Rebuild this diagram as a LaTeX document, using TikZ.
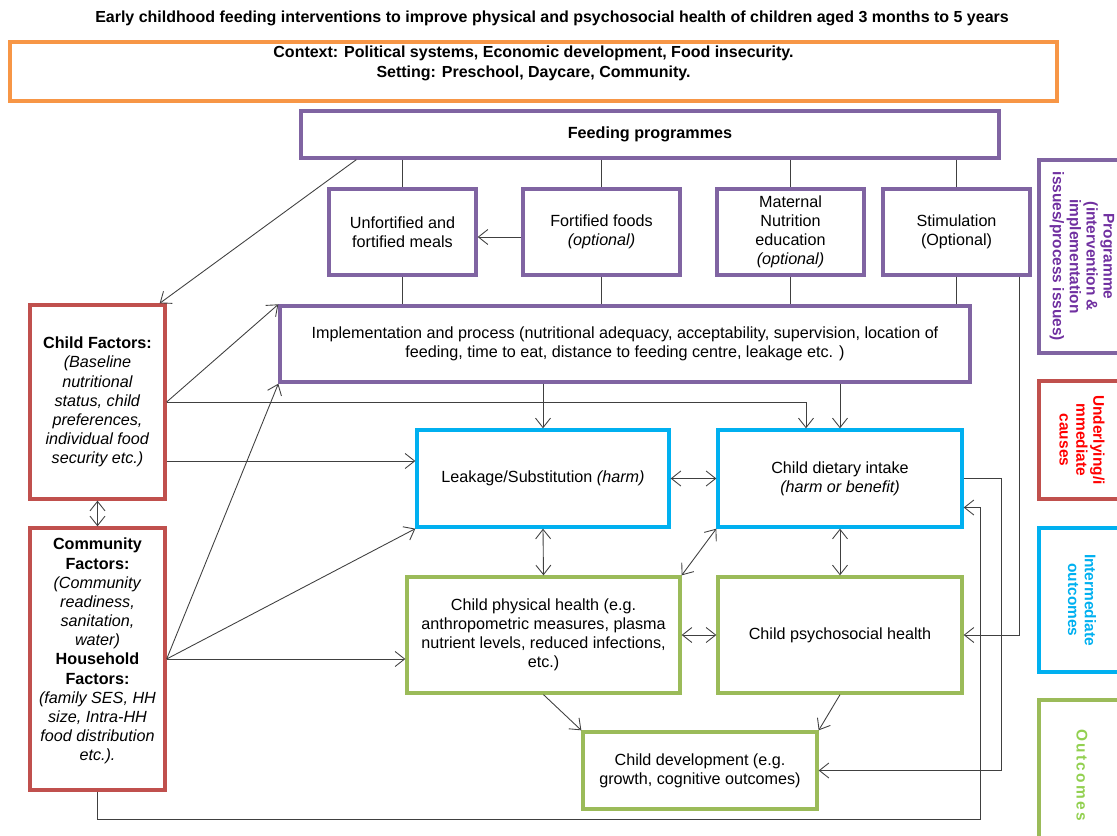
\documentclass[tikz,border=0pt]{standalone}
\usepackage{fontspec}
\setmainfont{Liberation Sans}
\usetikzlibrary{arrows.meta}

\definecolor{ctxorange}{HTML}{F79646}
\definecolor{progpurple}{HTML}{8064A2}
\definecolor{progtext}{HTML}{7030A0}
\definecolor{causered}{HTML}{C0504D}
\definecolor{interblue}{HTML}{00B0F0}
\definecolor{outgreen}{HTML}{9BBB59}
\definecolor{outtext}{HTML}{92D050}
\definecolor{linkgray}{HTML}{404040}

\begin{document}
\begin{tikzpicture}[
    >={Straight Barb[length=1.9mm,width=3mm]},
    every node/.style={font=\fontsize{9.2}{10.9}\selectfont, align=center, inner sep=2pt},
    ctxbox/.style={draw=ctxorange, line width=1.9pt},
    progbox/.style={draw=progpurple, line width=1.9pt},
    causebox/.style={draw=causered, line width=1.9pt},
    interbox/.style={draw=interblue, line width=1.9pt},
    outbox/.style={draw=outgreen, line width=1.9pt},
    legend/.style={rotate=-90, minimum height=1.72cm, font=\fontsize{8.8}{9.6}\selectfont\bfseries},
    link/.style={draw=linkgray, line width=0.5pt}
  ]
  \useasboundingbox (0,0) rectangle (22.34,16.7);

  % Title and context
  \node[font=\fontsize{9.1}{10.5}\selectfont\bfseries] (title) at (11.04,16.34)
    {Early childhood feeding interventions to improve physical and psychosocial health of children aged 3 months to 5 years};
  \node[ctxbox, minimum width=20.94cm, minimum height=1.18cm, font=\fontsize{9.1}{11}\selectfont\bfseries] (context) at (10.67,15.27)
    {Context: Political systems, Economic development, Food insecurity.\\ Setting: Preschool, Daycare, Community.\\ \mbox{}};

  % Programme boxes
  \node[progbox, minimum width=13.96cm, minimum height=0.94cm, font=\fontsize{9.2}{10.5}\selectfont\bfseries] (feed) at (13.0,14.01) {Feeding programmes};
  \node[progbox, minimum width=2.94cm, minimum height=1.72cm] (meals) at (8.05,12.06) {Unfortified and\\ fortified meals};
  \node[progbox, minimum width=3.14cm, minimum height=1.72cm] (fort) at (12.03,12.06) {Fortified foods\\ \textit{(optional)}};
  \node[progbox, minimum width=2.94cm, minimum height=1.72cm] (matern) at (15.81,12.06) {Maternal\\ Nutrition\\ education\\ \textit{(optional)}};
  \node[progbox, minimum width=2.94cm, minimum height=1.72cm] (stim) at (19.13,12.06) {Stimulation\\ (Optional)};
  \node[progbox, minimum width=13.8cm, minimum height=1.52cm] (impl) at (12.5,9.82)
    {Implementation and process (nutritional adequacy, acceptability, supervision, location of\\ feeding, time to eat, distance to feeding centre, leakage etc. )};

  % Child, community and household factors
  \node[causebox, minimum width=2.7cm, minimum height=3.88cm] (child) at (1.95,8.66)
    {\textbf{Child Factors:}\\ \textit{(Baseline}\\ \textit{nutritional}\\ \textit{status, child}\\ \textit{preferences,}\\ \textit{individual food}\\ \textit{security etc.)}};
  \node[causebox, minimum width=2.7cm, minimum height=5.24cm] (comm) at (1.95,3.52)
    {\textbf{Community}\\ \textbf{Factors:}\\ \textit{(Community}\\ \textit{readiness,}\\ \textit{sanitation,}\\ \textit{water)}\\ \textbf{Household}\\ \textbf{Factors:}\\ \textit{(family SES, HH}\\ \textit{size, Intra-HH}\\ \textit{food distribution}\\ \textit{etc.).}\\ \mbox{}};

  % Intermediate outcomes
  \node[interbox, minimum width=5.04cm, minimum height=1.94cm] (leak) at (10.86,7.13) {Leakage/Substitution \textit{(harm)}};
  \node[interbox, minimum width=4.88cm, minimum height=1.94cm] (diet) at (16.8,7.13) {Child dietary intake\\ \textit{(harm or benefit)}};

  % Outcomes
  \node[outbox, minimum width=5.46cm, minimum height=2.32cm] (phys) at (10.87,4.0)
    {Child physical health (e.g.\\ anthropometric measures, plasma\\ nutrient levels, reduced infections,\\ etc.)};
  \node[outbox, minimum width=4.88cm, minimum height=2.32cm] (psych) at (16.8,4.0) {Child psychosocial health};
  \node[outbox, minimum width=4.68cm, minimum height=1.54cm] (dev) at (14.0,1.29) {Child development (e.g.\\ growth, cognitive outcomes)};

  % Legend
  \node[legend, progbox, text=progtext, minimum width=3.86cm] (lprog) at (21.64,11.57)
    {Programme\\ (intervention \&\\ implementation\\ issues/process issues)};
  \node[legend, causebox, text=red, minimum width=2.36cm] (lcause) at (21.64,7.9) {Underlying/i\\ mmediate\\ causes};
  \node[legend, interbox, text=interblue, minimum width=2.88cm] (linter) at (21.64,4.7) {Intermediate\\ outcomes};
  \node[legend, outbox, text=outtext, minimum width=3.0cm] (lout) at (21.64,1.2) {\addfontfeature{LetterSpace=15}Outcomes};

  % Programme connectors
  \draw[link] (feed.south -| meals.north) -- (meals.north);
  \draw[link] (feed.south -| fort.north) -- (fort.north);
  \draw[link] (feed.south -| matern.north) -- (matern.north);
  \draw[link] (feed.south -| stim.north) -- (stim.north);
  \draw[link] (meals.south) -- (meals.south |- impl.north);
  \draw[link] (fort.south) -- (fort.south |- impl.north);
  \draw[link] (matern.south) -- (matern.south |- impl.north);
  \draw[link] (stim.south) -- (stim.south |- impl.north);
  \draw[link,->] ([yshift=-0.1cm]fort.west) -- ([yshift=-0.1cm]meals.east);
  \draw[link,->] ([xshift=1.14cm]feed.south west) -- ([xshift=-0.14cm]child.north east);

  % Factor connectors
  \coordinate (cfood) at ([yshift=-1.18cm]child.east);
  \draw[link,<->] (child.south) -- (comm.north);
  \draw[link,->] (child.east) -- (impl.north west);
  \draw[link,->] (child.east) -| ([xshift=-0.68cm]diet.north);
  \draw[link,->] (cfood) -- (cfood -| leak.west);
  \draw[link,->] (comm.east) -- (impl.south west);
  \draw[link,->] (comm.east) -- (leak.south west);
  \draw[link,->] (comm.east) -- (comm.east -| phys.west);

  % Intermediate and outcome connectors
  \draw[link,->] (impl.south -| leak.north) -- (leak.north);
  \draw[link,->] (impl.south -| diet.north) -- (diet.north);
  \draw[link,<->] (leak.east) -- (diet.west);
  \draw[link,<->] (leak.south) -- (phys.north);
  \draw[link,<->] (diet.south west) -- (phys.north east);
  \draw[link,<->] (diet.south) -- (psych.north);
  \draw[link,<->] (phys.east) -- (psych.west);
  \draw[link,->] (phys.south) -- (dev.north west);
  \draw[link,->] (psych.south) -- (dev.north east);

  % Feedback loops on the right
  \coordinate (dback) at ([yshift=-0.58cm]diet.east);
  \draw[link,->] (diet.east) -- ++(0.76,0) |- (dev.east);
  \draw[link,->] (comm.south) -- ++(0,-0.56) -| ([xshift=0.34cm]dback) -- (dback);
  \draw[link,->] ([xshift=-0.24cm]stim.south east) |- (psych.east);
\end{tikzpicture}
\end{document}
